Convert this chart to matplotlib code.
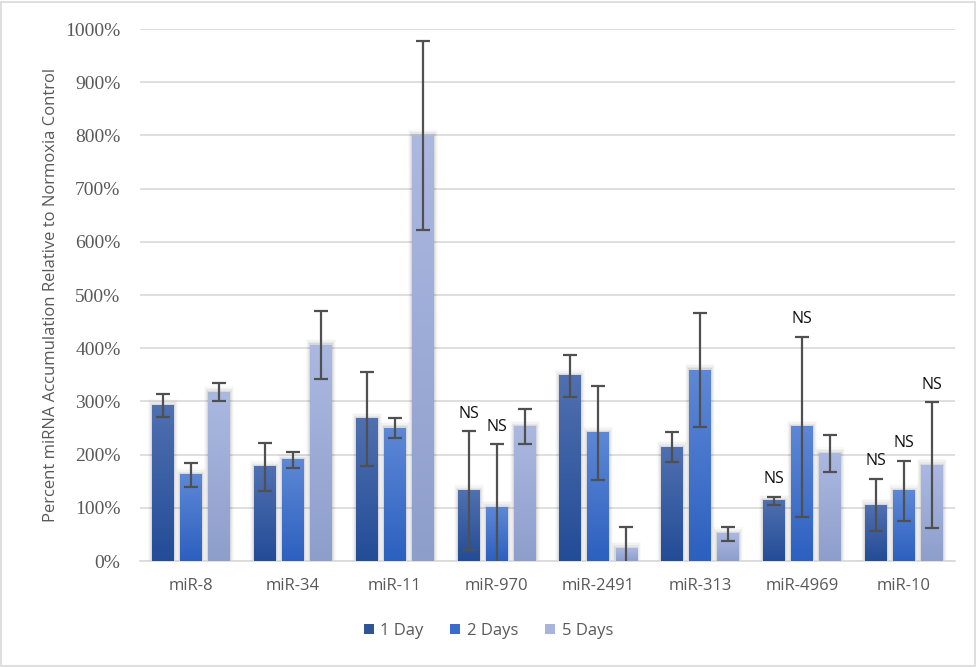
import numpy as np
import matplotlib
matplotlib.use("Agg")
import matplotlib.pyplot as plt
from matplotlib.colors import LinearSegmentedColormap
from matplotlib.patches import Patch, Rectangle

categories = ["miR-8", "miR-34", "miR-11", "miR-970", "miR-2491", "miR-313", "miR-4969", "miR-10"]
series_names = ["1 Day", "2 Days", "5 Days"]
day1 = [292, 177, 267, 132, 348, 214, 113, 105]
day2 = [162, 190, 250, 101, 241, 359, 252, 132]
day5 = [317, 406, 800, 252, 24, 51, 202, 180]
err1 = [21, 45, 88, 112, 39, 28, 8, 49]
err2 = [22, 15, 18, 118, 88, 107, 169, 56]
err5 = [17, 64, 178, 33, 39, 13, 34, 118]
ns1 = [False, False, False, True, False, False, True, True]
ns2 = [False, False, False, True, False, False, True, True]
ns5 = [False, False, False, False, False, False, False, True]
yticks = [0, 100, 200, 300, 400, 500, 600, 700, 800, 900, 1000]
ytick_labels = ["0%", "100%", "200%", "300%", "400%", "500%", "600%", "700%", "800%", "900%", "1000%"]

values = [day1, day2, day5]
errors = [err1, err2, err5]
ns_flags = [ns1, ns2, ns5]
grad_top = ["#5070b0", "#5e88d6", "#abb9e1"]
grad_bot = ["#234c97", "#2c60bf", "#8e9ecb"]
legend_cols = ["#2f5597", "#3a6ccd", "#a7b5de"]

fig = plt.figure(figsize=(9.77, 6.67), dpi=100)
ax = fig.add_axes([140/977, (667-561)/667, (955-140)/977, (561-29)/667])
fig.patches.append(Rectangle((0.001, 0.0015), 0.997, 0.996, transform=fig.transFigure,
                             fill=False, edgecolor="#d9d9d9", linewidth=1.2))

x = np.arange(len(categories))
width = 0.215
step = 0.275

for i in range(3):
    pos = x + (i - 1) * step
    bars = ax.bar(pos, values[i], width, color="none", zorder=3)
    cmap = LinearSegmentedColormap.from_list("g%d" % i, [grad_bot[i], grad_top[i]])
    grad = np.linspace(0, 1, 256).reshape(-1, 1)
    for b in bars:
        x0, w, h = b.get_x(), b.get_width(), b.get_height()
        for k, a in enumerate([0.06, 0.045, 0.03, 0.02]):
            dx = 0.01 * (k + 1)
            dy = 3 * (k + 1)
            ax.add_patch(Rectangle((x0 - dx, 0), w + 2 * dx, h + dy, facecolor="#000000",
                                   alpha=a, edgecolor="none", zorder=2))
        ax.imshow(grad, cmap=cmap, origin="lower", aspect="auto",
                  extent=(x0, x0 + w, 0, h), zorder=3)
    ax.errorbar(pos, values[i], yerr=errors[i], fmt="none", ecolor="#505050",
                elinewidth=1.6, capsize=5, capthick=1.6, zorder=4)
    for j in range(len(categories)):
        if ns_flags[i][j]:
            ax.text(pos[j], values[i][j] + errors[i][j] + 18, "NS", ha="center", va="bottom",
                    fontsize=11.5, family="Open Sans", color="#111111", zorder=5)

ax.set_xlim(-0.5, len(categories) - 0.5)
ax.set_ylim(0, 1000)
ax.set_yticks(yticks)
ax.set_yticklabels(ytick_labels, fontfamily=["Liberation Serif", "DejaVu Serif"], fontsize=14,
                   color="#595959")
ax.grid(axis="y", color="#d9d9d9", linewidth=1.2, zorder=0)
ax.set_axisbelow(True)
for s in ["top", "right", "left"]:
    ax.spines[s].set_visible(False)
ax.spines["bottom"].set_color("#d9d9d9")
ax.spines["bottom"].set_linewidth(1.2)
ax.tick_params(axis="both", length=0)
ax.tick_params(axis="y", pad=14)
ax.tick_params(axis="x", pad=12)
ax.set_xticks(x)
ax.set_xticklabels(categories, fontfamily="Open Sans", fontsize=12, color="#595959")
ax.set_ylabel("Percent miRNA Accumulation Relative to Normoxia Control", family="Open Sans",
              fontsize=12, color="#595959")
ax.yaxis.set_label_coords(-0.099, 0.5)

handles = [Patch(facecolor=c, edgecolor="none") for c in legend_cols]
fig.legend(handles, series_names, loc="center", bbox_to_anchor=(0.5, (667-631)/667), ncol=3,
           frameon=False, prop={"family": "Open Sans", "size": 12}, labelcolor="#595959",
           handlelength=0.6, handleheight=0.6, handletextpad=0.4, columnspacing=1.6)

fig.savefig("out.png", dpi=100)
